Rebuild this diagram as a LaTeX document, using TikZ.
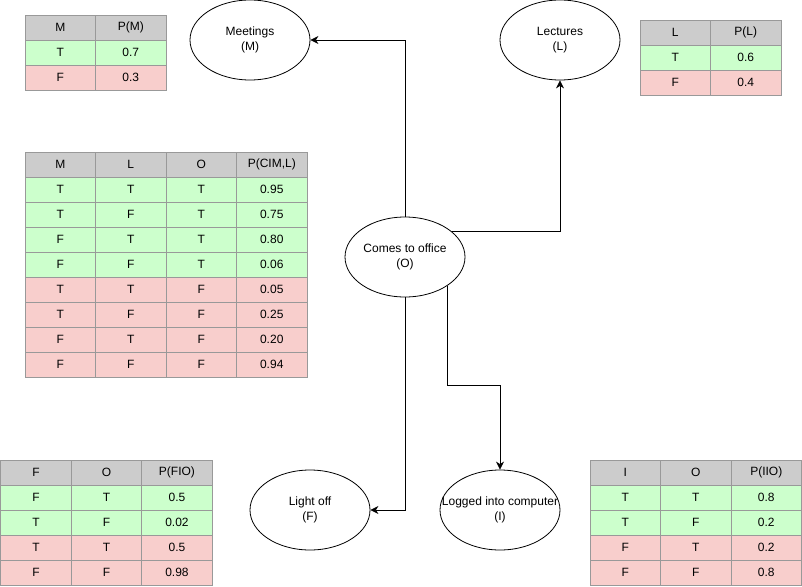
\documentclass[tikz,border=0pt]{standalone}
\usepackage{fontspec}
\setmainfont{Liberation Sans}
\usetikzlibrary{shapes.geometric,arrows.meta}
\definecolor{headgray}{HTML}{CCCCCC}
\definecolor{truegreen}{HTML}{CCFFCC}
\definecolor{falsered}{HTML}{F8CECC}
\definecolor{cellline}{HTML}{999999}
\begin{document}
\begin{tikzpicture}[
              x = 1pt, y = -1pt,
              every node/.style = {font = \fontsize{12}{15}\selectfont},
              event/.style = {draw, ellipse, line width = 0.8pt, minimum width = 120pt,
                              minimum height = 80pt, inner xsep = -20pt, inner ysep = 0pt, align = center},
              cell/.style = {draw = cellline, line width = 0.8pt, minimum width = 70.5pt,
                             minimum height = 25pt, inner sep = 0pt},
              hdrow/.style = {fill = headgray},
              truerow/.style = {fill = truegreen},
              falserow/.style = {fill = falsered},
              link/.style = {-{Stealth[length = 8pt, width = 8pt, inset = 2.5pt]}, line width = 0.8pt}
            ]
            \useasboundingbox (0, 0) rectangle (802, 586);
            % events
            \node[event] (M) at (250, 40)  {Meetings\\(M)};
            \node[event] (L) at (560, 40)  {Lectures\\(L)};
            \node[event] (O) at (405, 257) {Comes to office\\(O)};
            \node[event] (F) at (310, 510) {Light off\\(F)};
            \node[event] (I) at (500, 510) {Logged into computer\\(I)};
            % the links
            \coordinate (oi) at (500, 385);
            \draw[link] (O.north) |- (M.east);
            \draw[link] (O.28)    -| (L.south);
            \draw[link] (O.south) |- (F.east);
            \draw[link] (O.-34)   |- (oi) -- (I.north);
            % table for M
            \foreach \r/\s/\a/\b in {0/hdrow/M/P(M), 1/truerow/T/0.7, 2/falserow/F/0.3} {
              \node[cell, \s] (m-\r-0) at ({60.25},  {27.5 + 25*\r}) {\a};
              \node[cell, \s] (m-\r-1) at ({130.75}, {27.5 + 25*\r}) {\b};
            }
            % table for L
            \foreach \r/\s/\a/\b in {0/hdrow/L/P(L), 1/truerow/T/0.6, 2/falserow/F/0.4} {
              \node[cell, \s] (l-\r-0) at ({675.25}, {32.5 + 25*\r}) {\a};
              \node[cell, \s] (l-\r-1) at ({745.75}, {32.5 + 25*\r}) {\b};
            }
            % table for O
            \foreach \r/\s/\a/\b/\c/\d in {0/hdrow/M/L/O/{P(CIM,L)},
                                           1/truerow/T/T/T/0.95, 2/truerow/T/F/T/0.75,
                                           3/truerow/F/T/T/0.80, 4/truerow/F/F/T/0.06,
                                           5/falserow/T/T/F/0.05, 6/falserow/T/F/F/0.25,
                                           7/falserow/F/T/F/0.20, 8/falserow/F/F/F/0.94} {
              \node[cell, \s] (o-\r-0) at ({60.25},  {164.5 + 25*\r}) {\a};
              \node[cell, \s] (o-\r-1) at ({130.75}, {164.5 + 25*\r}) {\b};
              \node[cell, \s] (o-\r-2) at ({201.25}, {164.5 + 25*\r}) {\c};
              \node[cell, \s] (o-\r-3) at ({271.75}, {164.5 + 25*\r}) {\d};
            }
            % table for F
            \foreach \r/\s/\a/\b/\c in {0/hdrow/F/O/P(FIO),
                                        1/truerow/F/T/0.5, 2/truerow/T/F/0.02,
                                        3/falserow/T/T/0.5, 4/falserow/F/F/0.98} {
              \node[cell, \s] (f-\r-0) at ({35.95},  {472.5 + 25*\r}) {\a};
              \node[cell, \s] (f-\r-1) at ({106.45}, {472.5 + 25*\r}) {\b};
              \node[cell, \s] (f-\r-2) at ({176.95}, {472.5 + 25*\r}) {\c};
            }
            % table for I
            \foreach \r/\s/\a/\b/\c in {0/hdrow/I/O/P(IIO),
                                        1/truerow/T/T/0.8, 2/truerow/T/F/0.2,
                                        3/falserow/F/T/0.2, 4/falserow/F/F/0.8} {
              \node[cell, \s] (i-\r-0) at ({625.25}, {472.5 + 25*\r}) {\a};
              \node[cell, \s] (i-\r-1) at ({695.75}, {472.5 + 25*\r}) {\b};
              \node[cell, \s] (i-\r-2) at ({766.25}, {472.5 + 25*\r}) {\c};
            }
          \end{tikzpicture}
\end{document}
